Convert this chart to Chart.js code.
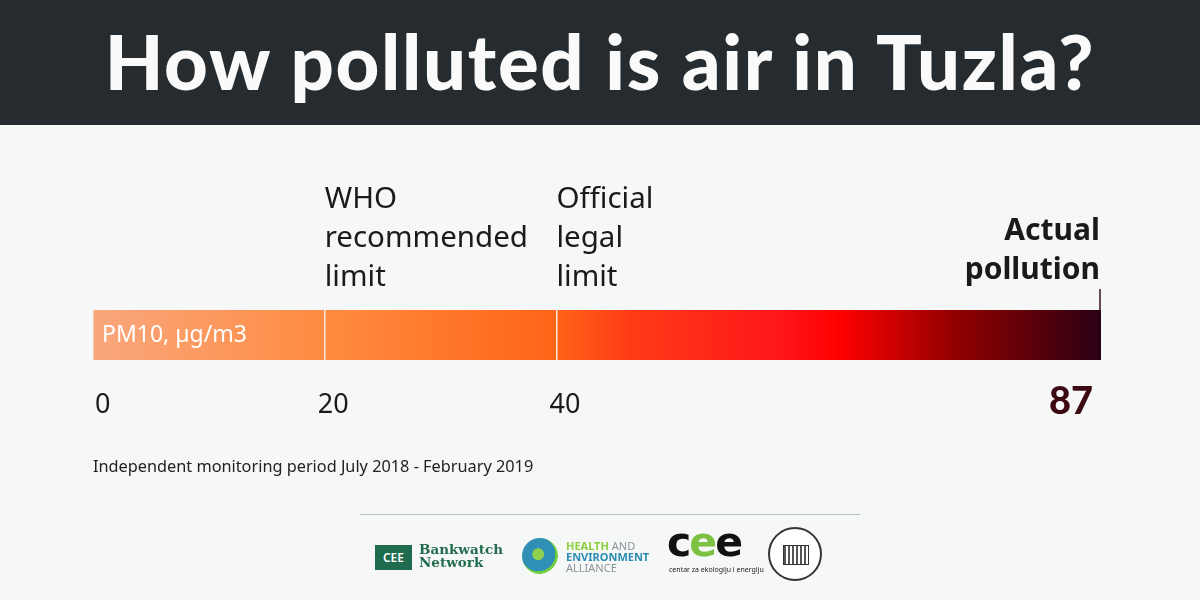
<!DOCTYPE html>
<html>
<head>
<meta charset="utf-8">
<script src="https://cdn.jsdelivr.net/npm/chart.js@4"></script>
<style>
  html, body { margin: 0; padding: 0; }
  body { width: 1200px; height: 600px; background: #f6f7f7; position: relative; overflow: hidden; font-family: "Noto Sans", sans-serif; }
  #head { position: absolute; left: 0; top: 0; width: 1200px; height: 125px; background: #252b2e; }
  #title { position: absolute; left: 0; top: 11px; width: 1200px; text-align: center; color: #fafafa;
           font-family: Lato, sans-serif; font-weight: 900; font-size: 76px; letter-spacing: 1.7px; line-height: 100px; white-space: nowrap; }
  #chart { position: absolute; left: 0; top: 0; }
  #note { position: absolute; left: 93px; top: 455px; font-size: 16.3px; color: #222; }
  #rule { position: absolute; left: 360px; top: 514px; width: 500px; height: 1px; background: #b9bec2; }
  .logo { position: absolute; }
</style>
</head>
<body>
<div id="head"><div id="title">How polluted is air in Tuzla?</div></div>
<canvas id="chart" width="1200" height="600"></canvas>
<div id="note">Independent monitoring period July 2018 - February 2019</div>
<div id="rule"></div>

<!-- logos, roughly -->
<div class="logo" style="left:375px;top:545px;width:37px;height:25px;background:#1f6b4e;color:#fff;font:600 12px 'Noto Sans';line-height:25px;text-align:center;">CEE</div>
<div class="logo" style="left:419px;top:543px;color:#236c4e;font:bold 13.5px/13px 'DejaVu Serif';">Bankwatch<br>Network</div>
<div class="logo" style="left:522px;top:538px;width:36px;height:36px;border-radius:50%;background:radial-gradient(circle at 45% 45%, #8fd14f 0 20%, #2f8fb5 22% 60%, #6fcf3f 62% 70%, transparent 72%);"></div>
<div class="logo" style="left:566px;top:540px;font:11px/11px 'Noto Sans';color:#8a9399;">
  <span style="color:#8ccf3c;font-weight:bold">HEALTH</span> AND<br>
  <span style="color:#2b8cb3;font-weight:bold">ENVIRONMENT</span><br>ALLIANCE</div>
<div class="logo" style="left:667px;top:522px;font:bold 41px/40px 'DejaVu Sans';letter-spacing:-2px;color:#111;">c<span style="color:#7cc242">e</span>e</div>
<div class="logo" style="left:669px;top:565px;font:7px 'Noto Sans';color:#222;">centar za ekologiju i energiju</div>
<div class="logo" style="left:768px;top:527px;width:54px;height:54px;border-radius:50%;border:2px solid #333;box-sizing:border-box;background:#fff;">
  <div style="position:absolute;left:13px;top:16px;width:24px;height:18px;border:1px solid #333;background:repeating-linear-gradient(90deg,#555 0 2px,#fff 2px 4px);"></div>
</div>

<script>
// values
const categories = ['PM10, µg/m3'];
const actualPollution = [87];
const limitValues = [20, 40];
const limitLabels = [['WHO', 'recommended', 'limit'], ['Official', 'legal', 'limit']];
const tickValues = [0, 20, 40, 87];
const actualLabel = ['Actual', 'pollution'];

function barGradient(context) {
  const area = context.chart.chartArea;
  if (!area) return '#ff5a14';
  const g = context.chart.ctx.createLinearGradient(area.left, 0, area.right, 0);
  g.addColorStop(0, '#f9a77e');
  g.addColorStop(0.24, '#ff8a3e');
  g.addColorStop(0.46, '#ff6418');
  g.addColorStop(0.53, '#ff3c16');
  g.addColorStop(0.68, '#ff161a');
  g.addColorStop(0.74, '#ff0000');
  g.addColorStop(0.86, '#8e0000');
  g.addColorStop(1, '#2a0014');
  return g;
}

const textPlugin = {
  id: 'textPlugin',
  afterDraw(chart) {
    const ctx = chart.ctx;
    const x = chart.scales.x;
    const area = chart.chartArea;
    ctx.save();
    // label inside bar
    ctx.fillStyle = '#fff';
    ctx.font = '23px "Noto Sans"';
    ctx.textAlign = 'left';
    ctx.textBaseline = 'middle';
    ctx.fillText(categories[0], area.left + 9, (area.top + area.bottom) / 2);

    // limit labels above bar
    ctx.fillStyle = '#1a1a1a';
    ctx.font = '29.5px "Noto Sans"';
    limitValues.forEach((v, i) => {
      const px = x.getPixelForValue(v);
      limitLabels[i].forEach((line, j) => {
        ctx.fillText(line, px, 200 + j * 39);
      });
    });

    // actual pollution label
    const pEnd = x.getPixelForValue(actualPollution[0]);
    ctx.font = 'bold 30px "Noto Sans"';
    ctx.textAlign = 'right';
    actualLabel.forEach((line, j) => ctx.fillText(line, pEnd - 1, 231 + j * 39));
    ctx.strokeStyle = '#3a1016';
    ctx.lineWidth = 1.5;
    ctx.beginPath();
    ctx.moveTo(pEnd - 1, 289);
    ctx.lineTo(pEnd - 1, area.top);
    ctx.stroke();

    // tick labels
    tickValues.forEach(v => {
      const px = x.getPixelForValue(v);
      if (v === actualPollution[0]) {
        ctx.font = '900 38px Lato';
        ctx.fillStyle = '#3d0a14';
        ctx.textAlign = 'right';
        ctx.fillText(String(v), px - 8, 402);
      } else {
        ctx.font = '27px "Noto Sans"';
        ctx.fillStyle = '#1a1a1a';
        ctx.textAlign = 'left';
        ctx.fillText(String(v), px + (v === 0 ? 2 : -7), 405);
      }
    });
    ctx.restore();
  }
};

new Chart(document.getElementById('chart'), {
  type: 'bar',
  data: {
    labels: categories,
    datasets: [{
      data: actualPollution,
      backgroundColor: barGradient,
      borderWidth: 0,
      barPercentage: 1,
      categoryPercentage: 1
    }]
  },
  options: {
    indexAxis: 'y',
    responsive: false,
    animation: false,
    devicePixelRatio: 1,
    layout: { padding: { left: 93, right: 99, top: 310, bottom: 240 } },
    plugins: { legend: { display: false }, tooltip: { enabled: false } },
    scales: {
      x: {
        min: 0,
        max: 87,
        afterBuildTicks: axis => { axis.ticks = tickValues.map(v => ({ value: v })); },
        ticks: { display: false },
        border: { display: false },
        grid: {
          z: 1,
          drawTicks: false,
          lineWidth: 1.5,
          color: ctx => limitValues.includes(ctx.tick && ctx.tick.value) ? '#fbe8dc' : 'rgba(0,0,0,0)'
        }
      },
      y: { display: false }
    }
  },
  plugins: [textPlugin]
});
</script>
</body>
</html>
